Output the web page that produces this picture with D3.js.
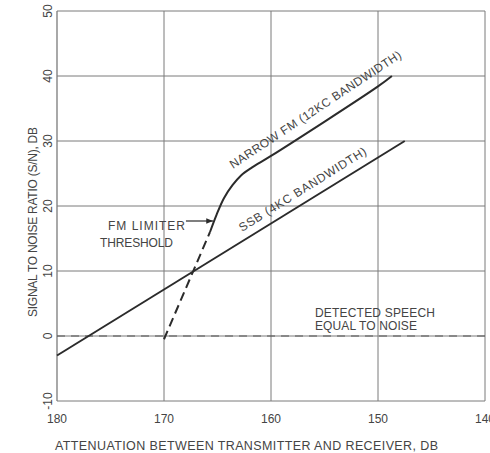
<!DOCTYPE html>
<html><head><meta charset="utf-8">
<script src="https://cdn.jsdelivr.net/npm/d3@7"></script>
<style>
html,body{margin:0;padding:0;background:#fff;}
svg text{font-family:"Liberation Sans",Arial,sans-serif;fill:#444;}
</style></head>
<body><svg id="c" width="490" height="453"></svg>
<script>
// ---- data ----
const xTicks = [180, 170, 160, 150, 140];
const yTicks = [-10, 0, 10, 20, 30, 40, 50];
const ssbAtten = [180, 147.5];
const ssbSN = [-3, 30];
const fmAtten = [165.7, 165.1, 164.4, 163.6, 162.8, 161.8, 160, 150, 148.7];
const fmSN = [16.0, 18.6, 21.2, 23.2, 24.7, 25.9, 27.7, 38.4, 40];
const fmDashAtten = [170, 165.7];
const fmDashSN = [-0.5, 16.0];
const noiseAtten = [180, 140];
const noiseSN = [0, 0];

const svg = d3.select("#c");
const x = d3.scaleLinear().domain([180, 140]).range([57, 485]);
const y = d3.scaleLinear().domain([-10, 50]).range([401, 11]);

// grid
const g = svg.append("g");
g.selectAll("line.h").data(yTicks).join("line")
  .attr("x1", x(180)).attr("x2", x(140))
  .attr("y1", d => y(d)).attr("y2", d => y(d))
  .attr("stroke", "#7a7a7a").attr("stroke-width", 1);
g.selectAll("line.v").data(xTicks).join("line")
  .attr("y1", y(-10)).attr("y2", y(50))
  .attr("x1", d => x(d)).attr("x2", d => x(d))
  .attr("stroke", "#7a7a7a").attr("stroke-width", d => (d === 180 ? 1.3 : 1));

// x tick labels
svg.selectAll("text.xt").data(xTicks).join("text")
  .attr("x", d => x(d)).attr("y", 423)
  .attr("text-anchor", "middle").attr("font-size", 12)
  .text(d => d);
// y tick labels (rotated)
svg.selectAll("text.yt").data(yTicks).join("text")
  .attr("transform", d => `translate(52,${y(d)}) rotate(-90)`)
  .attr("text-anchor", "middle").attr("font-size", 12)
  .text(d => d);

// axis titles
svg.append("text").attr("x", 55).attr("y", 450).attr("font-size", 12.5)
  .attr("textLength", 383).attr("lengthAdjust", "spacing")
  .text("ATTENUATION BETWEEN TRANSMITTER AND RECEIVER, DB");
svg.append("text").attr("transform", "translate(37,317) rotate(-90)")
  .attr("font-size", 12).attr("textLength", 190).attr("lengthAdjust", "spacing")
  .text("SIGNAL  TO NOISE RATIO (S/N), DB");

const line = d3.line().x(d => x(d[0])).y(d => y(d[1]));
const zip = (a, b) => a.map((v, i) => [v, b[i]]);

// noise dashed
svg.append("path").attr("d", line(zip(noiseAtten, noiseSN)))
  .attr("fill", "none").attr("stroke", "#555").attr("stroke-width", 1.1)
  .attr("stroke-dasharray", "8,6");
// SSB
svg.append("path").attr("d", line(zip(ssbAtten, ssbSN)))
  .attr("fill", "none").attr("stroke", "#2b2b2b").attr("stroke-width", 2);
// FM dashed
svg.append("path").attr("d", line(zip(fmDashAtten, fmDashSN)))
  .attr("fill", "none").attr("stroke", "#2b2b2b").attr("stroke-width", 2)
  .attr("stroke-dasharray", "9,5");
// FM solid
svg.append("path").attr("d", d3.line().x(d => x(d[0])).y(d => y(d[1]))
    .curve(d3.curveCatmullRom.alpha(0.5))(zip(fmAtten, fmSN)))
  .attr("fill", "none").attr("stroke", "#2b2b2b").attr("stroke-width", 2);

// labels on lines
svg.append("text").attr("transform", "translate(233,169) rotate(-33.5)")
  .attr("font-size", 12).attr("textLength", 203).attr("lengthAdjust", "spacing")
  .text("NARROW FM (12KC BANDWIDTH)");
svg.append("text").attr("transform", "translate(242,232) rotate(-32)")
  .attr("font-size", 12).attr("textLength", 148).attr("lengthAdjust", "spacing")
  .text("SSB (4KC BANDWIDTH)");

// FM limiter annotation
svg.append("text").attr("x", 108).attr("y", 230).attr("font-size", 12)
  .attr("textLength", 77).attr("lengthAdjust", "spacing").text("FM LIMITER");
svg.append("text").attr("x", 100).attr("y", 247).attr("font-size", 12)
  .attr("textLength", 73).attr("lengthAdjust", "spacing").text("THRESHOLD");
svg.append("defs").append("marker").attr("id", "ah")
  .attr("viewBox", "0 0 10 10").attr("refX", 10).attr("refY", 5)
  .attr("markerWidth", 7).attr("markerHeight", 7).attr("orient", "auto")
  .attr("markerUnits", "userSpaceOnUse")
  .append("path").attr("d", "M0,1 L10,5 L0,9 Z").attr("fill", "#2b2b2b");
svg.append("line").attr("x1", x(167.95)).attr("x2", x(165.4))
  .attr("y1", 221).attr("y2", 221)
  .attr("stroke", "#2b2b2b").attr("stroke-width", 1.2).attr("marker-end", "url(#ah)");

// detected speech
svg.append("text").attr("x", 315).attr("y", 317).attr("font-size", 12)
  .attr("textLength", 120).attr("lengthAdjust", "spacing").text("DETECTED SPEECH");
svg.append("text").attr("x", 315).attr("y", 330).attr("font-size", 12)
  .attr("textLength", 102).attr("lengthAdjust", "spacing").text("EQUAL TO NOISE");
</script></body></html>
